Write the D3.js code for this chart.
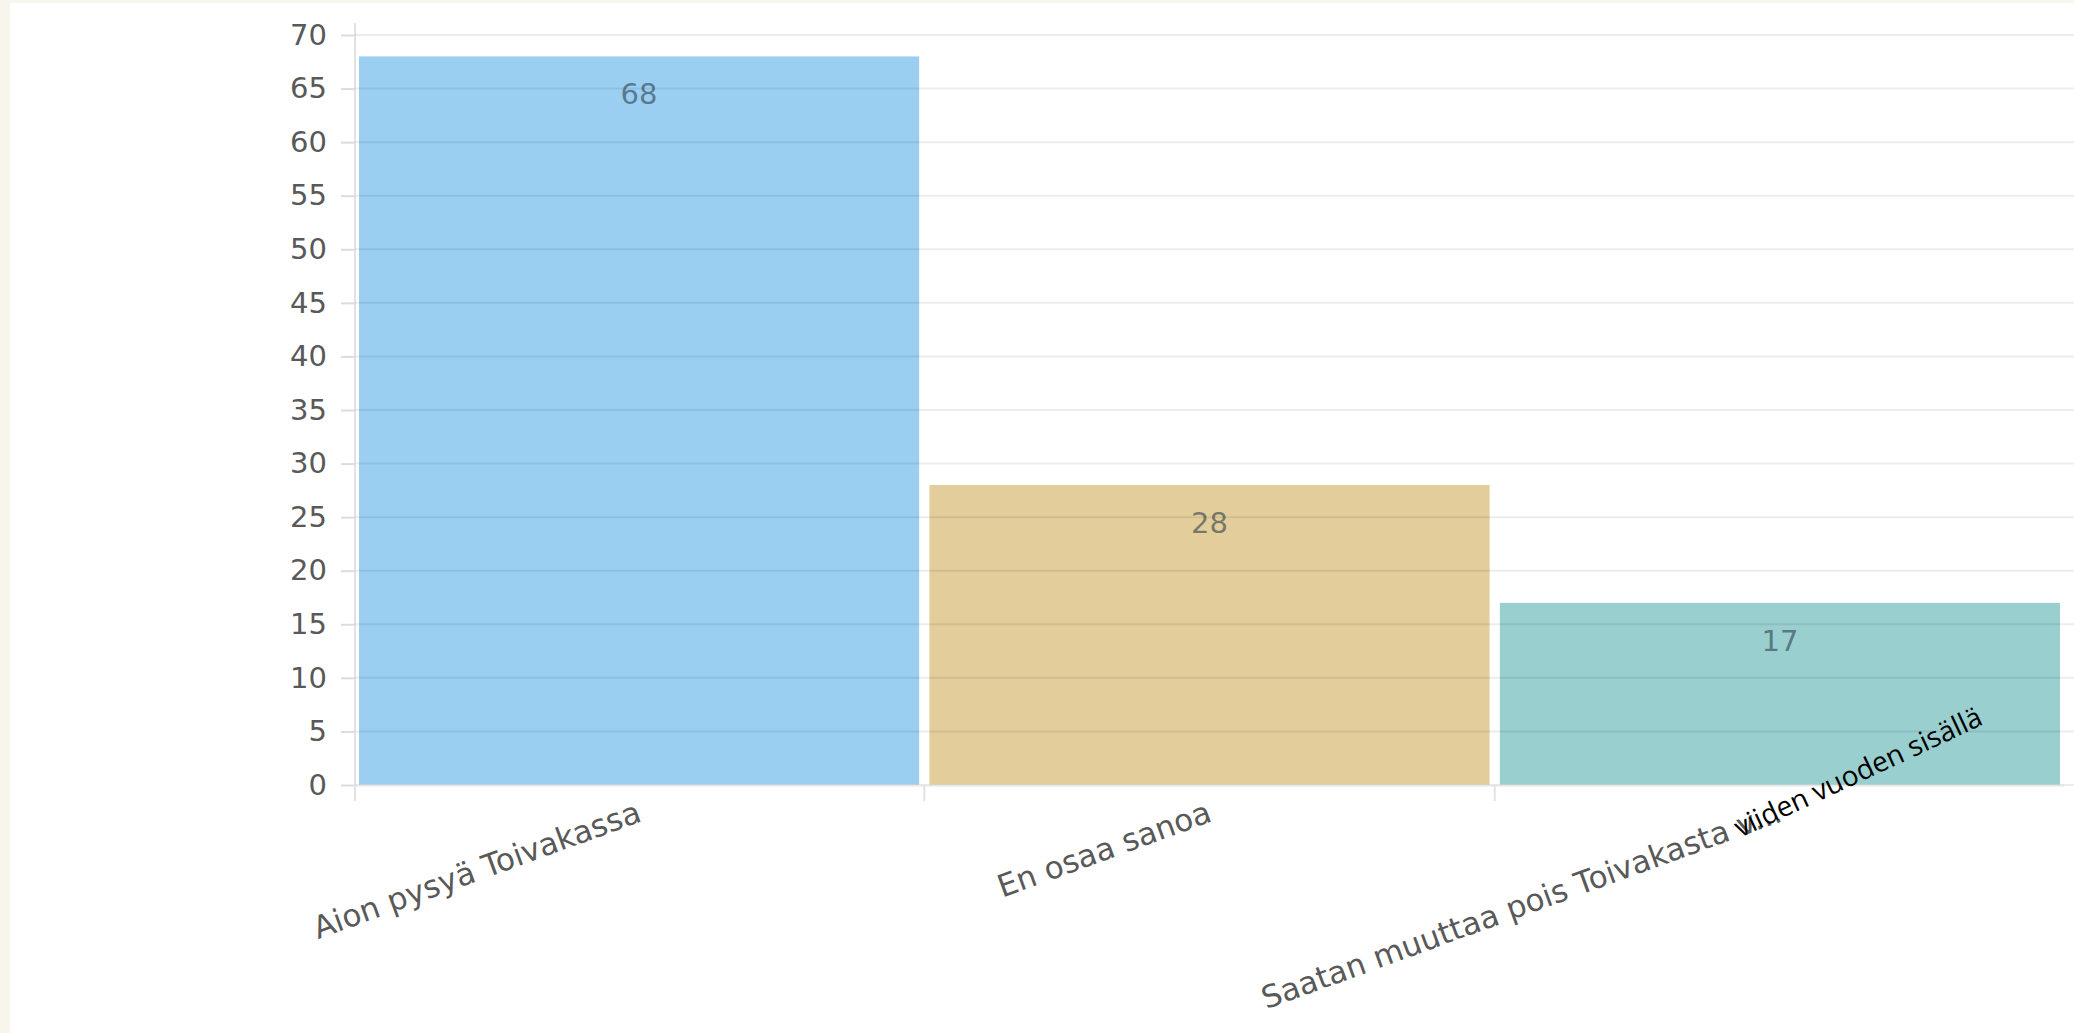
<!DOCTYPE html>
<html><head><meta charset="utf-8">
<script src="https://cdn.jsdelivr.net/npm/d3@7"></script>
<style>
html,body{margin:0;padding:0;background:#f8f5ec;overflow:hidden}
svg{display:block}
</style></head><body>
<svg id="c" width="2074" height="1033"></svg>
<script>
const categories = ["Aion pysyä Toivakassa", "En osaa sanoa", "Saatan muuttaa pois Toivakasta v..."];
const values = [68, 28, 17];
const colors = ["#9acff2", "#e2cd9b", "#99cfcf"];
const yTicks = d3.range(0, 71, 5);
const annotation = "viiden vuoden sisällä";

const svg = d3.select("#c");
svg.append("rect").attr("x", 0).attr("y", 0).attr("width", 2074).attr("height", 1033).attr("fill", "#f8f5ec");
svg.append("rect").attr("x", 10).attr("y", 3).attr("width", 2064).attr("height", 1030).attr("fill", "#ffffff");

const x = d3.scaleBand().domain(categories).range([355, 2064]).paddingInner(0.018).paddingOuter(0.007);
const y = d3.scaleLinear().domain([0, 70]).range([785, 35]);

// y axis
const yAxis = d3.axisLeft(y).tickValues(yTicks).tickSize(14).tickPadding(14).tickSizeOuter(0);
const gy = svg.append("g").attr("transform", "translate(355,0)").call(yAxis);
gy.select(".domain").remove();
gy.selectAll(".tick line").attr("stroke", "#dcdcdc").attr("stroke-width", 2);
gy.selectAll(".tick text").attr("fill", "#595959").attr("font-family", "DejaVu Sans").attr("font-size", 29);
svg.append("line").attr("x1", 355).attr("x2", 355).attr("y1", y(70) - 12).attr("y2", y(0) + 16)
  .attr("stroke", "#e2e2e2").attr("stroke-width", 2);

// bars
svg.append("g").selectAll("rect").data(categories).join("rect")
  .attr("x", d => x(d)).attr("y", (d, i) => y(values[i]))
  .attr("width", x.bandwidth()).attr("height", (d, i) => y(0) - y(values[i]))
  .attr("fill", (d, i) => colors[i]);

// value labels
svg.append("g").selectAll("text").data(categories).join("text")
  .attr("x", d => x(d) + x.bandwidth() / 2).attr("y", (d, i) => y(values[i]) + 48)
  .attr("text-anchor", "middle").attr("font-family", "DejaVu Sans").attr("font-size", 29)
  .attr("fill", "#2f3f4a").attr("fill-opacity", 0.6)
  .text((d, i) => values[i]);

// gridlines (drawn over bars)
svg.append("g").selectAll("line").data(yTicks).join("line")
  .attr("x1", 355).attr("x2", 2074).attr("y1", d => y(d)).attr("y2", d => y(d))
  .attr("stroke", "#000").attr("stroke-opacity", 0.075).attr("stroke-width", 2);

// x axis
const xAxis = d3.axisBottom(x).tickSize(0).tickSizeOuter(0).tickFormat("");
const gx = svg.append("g").attr("transform", `translate(0,${y(0)})`).call(xAxis);
gx.select(".domain").attr("stroke", "#e6e6e6").attr("stroke-width", 2);
svg.append("g").selectAll("line").data(categories.slice(1)).join("line")
  .attr("x1", d => x(d) - x.step() * x.paddingInner() / 2).attr("x2", d => x(d) - x.step() * x.paddingInner() / 2)
  .attr("y1", y(0)).attr("y2", y(0) + 16).attr("stroke", "#e2e2e2").attr("stroke-width", 2);

// category labels
svg.append("g").selectAll("text").data(categories).join("text")
  .attr("transform", d => `translate(${x(d) + x.bandwidth() / 2 - 4},${y(0) + 14}) rotate(-20)`)
  .attr("text-anchor", "end").attr("dy", "0.75em")
  .attr("font-family", "DejaVu Sans").attr("font-size", 31).attr("fill", "#595959")
  .text(d => d);

// overlaid annotation
svg.append("text")
  .attr("transform", "translate(1740,838) rotate(-25)")
  .attr("font-family", "Open Sans, Liberation Sans, sans-serif").attr("font-size", 28).attr("fill", "#000")
  .text(annotation);
</script>
</body></html>
